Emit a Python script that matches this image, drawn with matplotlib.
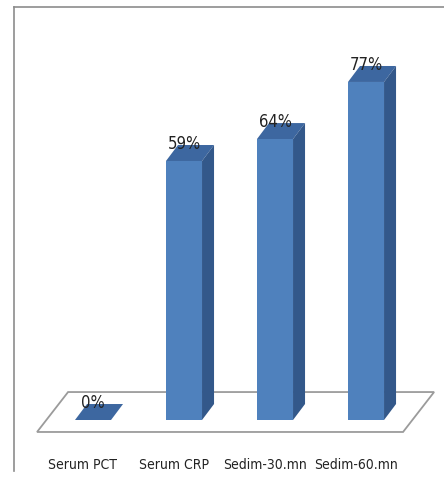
import numpy as np
import matplotlib
matplotlib.use("Agg")
import matplotlib.pyplot as plt
from matplotlib.patches import Polygon
from matplotlib.lines import Line2D

categories = ["Serum PCT", "Serum CRP", "Sedim-30.mn", "Sedim-60.mn"]
values = [0, 59, 64, 77]
value_labels = ["0%", "59%", "64%", "77%"]

front_col = "#4F81BD"
top_col = "#3D67A0"
side_col = "#33588A"

fig = plt.figure(figsize=(4.44, 4.89), dpi=100)
ax = fig.add_axes([0, 0, 1, 1])
ax.set_xlim(-1.022, 3.857)
ax.set_ylim(-15.49, 95.9)
ax.axis("off")

# 3d look: bar width and depth offsets in data units
bw = 0.396
dx, dy = 0.132, 3.64

# floor
fdx, fdy = 0.341, 9.1
floor = Polygon([(-0.615, -2.73), (3.407, -2.73), (3.407 + fdx, -2.73 + fdy),
                 (-0.615 + fdx, -2.73 + fdy)], closed=True,
                facecolor="white", edgecolor="#9b9b9b", lw=1.3, zorder=1)
ax.add_patch(floor)

for i, v in enumerate(values):
    x0 = i - bw / 2
    x1 = i + bw / 2
    # top face
    ax.add_patch(Polygon([(x0, v), (x1, v), (x1 + dx, v + dy), (x0 + dx, v + dy)],
                         closed=True, facecolor=top_col, edgecolor="none", zorder=3))
    if v > 0:
        # front face
        ax.add_patch(Polygon([(x0, 0), (x1, 0), (x1, v), (x0, v)],
                             closed=True, facecolor=front_col, edgecolor="none", zorder=3))
        # side face
        ax.add_patch(Polygon([(x1, 0), (x1 + dx, dy), (x1 + dx, v + dy), (x1, v)],
                             closed=True, facecolor=side_col, edgecolor="none", zorder=3))
    ax.text(i, v + dy - 0.6, value_labels[i], ha="center", va="baseline",
            fontsize=12, family="DejaVu Sans", fontstretch="condensed",
            color="#222222", zorder=4)
    ax.text(i - 0.11, -10.0, categories[i], ha="center", va="center",
            fontsize=10, family="DejaVu Sans", fontstretch="condensed",
            color="#222222", zorder=4)

# chart border
fig.add_artist(Line2D([14 / 444, 14 / 444], [1 - 8 / 489, 1 - 472 / 489],
                      transform=fig.transFigure, color="#8c8c8c", lw=1.2))
fig.add_artist(Line2D([14 / 444, 1], [1 - 8 / 489, 1 - 8 / 489],
                      transform=fig.transFigure, color="#8c8c8c", lw=1.2))

fig.savefig("out.png", dpi=100)
